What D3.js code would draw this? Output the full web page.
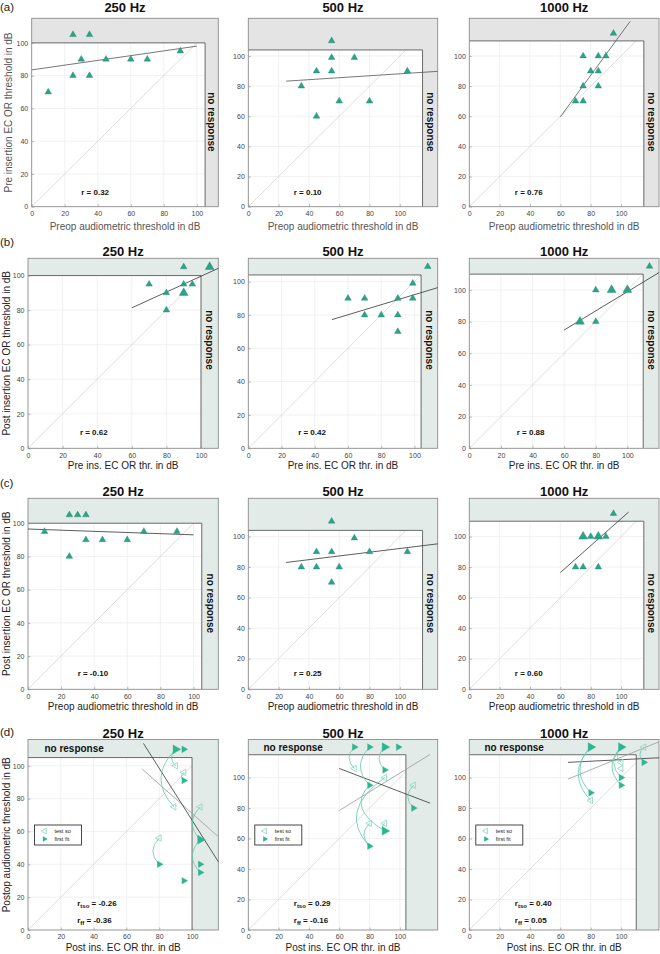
<!DOCTYPE html>
<html><head><meta charset="utf-8">
<script src="https://cdn.jsdelivr.net/npm/d3@7"></script>
<style>
body{margin:0;background:#fff}
svg{display:block}
text{font-family:"Liberation Sans",Arial,Helvetica,sans-serif}
</style></head>
<body><svg id="chart" width="660" height="954"></svg>
<script>
// ---------------- data ----------------
const freqLabels = ["250 Hz", "500 Hz", "1000 Hz"];
const rowTags = ["(a)", "(b)", "(c)", "(d)"];
const tickValues = [0, 20, 40, 60, 80, 100];
const xTitles = ["Preop audiometric threshold in dB", "Pre ins. EC OR thr. in dB",
                 "Preop audiometric threshold in dB", "Post ins. EC OR thr. in dB"];
const yTitles = ["Pre insertion EC OR threshold in dB", "Post insertion EC OR threshold in dB",
                 "Post insertion EC OR threshold in dB", "Postop audiometric threshold in dB"];
const noRespText = "no response";
const legendLabels = ["test so", "first fit"];

// no-response levels per frequency
const preopLimit = [105, 115, 115];
const ecorLimit = [100, 104, 110];

// (a) preop audiometric (x) vs pre insertion EC OR (y)
const a250x = [10, 25, 35, 25, 35, 30, 45, 60, 70, 90];
const a250y = [70, 105, 105, 80, 80, 90, 90, 90, 90, 95];
const a250fit = [[0, 83.5], [100, 98]];
const a500x = [35, 45, 45, 55, 55, 55, 60, 70, 80, 105];
const a500y = [80, 90, 60, 110, 99, 90, 70, 99, 70, 90];
const a500fit = [[25, 83.3], [125, 89.8]];
const a1000x = [95, 75, 85, 90, 80, 85, 75, 85, 70, 75];
const a1000y = [115, 100, 100, 100, 90, 90, 80, 80, 70, 70];
const a1000fit = [[60, 59.6], [106, 123]];
const aR = ["0.32", "0.10", "0.76"];

// (b) pre insertion EC OR (x) vs post insertion EC OR (y)
const b250x = [70, 80, 80, 90, 90, 90, 90, 95, 105, 105];
const b250y = [95, 90, 80, 105, 95, 90, 90, 95, 105, 105];
const b250fit = [[60, 81.3], [110, 104.2]];
const b500x = [60, 70, 70, 80, 90, 90, 90, 99, 99, 108];
const b500y = [90, 90, 80, 80, 90, 80, 70, 99, 90, 109];
const b500fit = [[50.3, 77.2], [114, 96.4]];
const b1000x = [70, 70, 80, 80, 90, 90, 100, 100, 114];
const b1000y = [80, 80, 100, 80, 100, 100, 100, 100, 115];
const b1000fit = [[60, 74.7], [120, 111]];
const bR = ["0.62", "0.42", "0.88"];

// (c) preop audiometric (x) vs post insertion EC OR (y)
const c250x = [10, 25, 30, 35, 25, 35, 45, 60, 70, 90];
const c250y = [95, 105, 105, 105, 80, 90, 90, 90, 95, 95];
const c250fit = [[0, 96.5], [100, 93]];
const c500x = [35, 45, 45, 55, 55, 55, 60, 70, 80, 105];
const c500y = [80, 90, 80, 110, 90, 70, 80, 99, 90, 90];
const c500fit = [[25, 83], [125, 95.2]];
const c1000x = [95, 75, 75, 80, 85, 85, 90, 70, 75, 85];
const c1000y = [115, 100, 100, 100, 100, 100, 100, 80, 80, 80];
const c1000fit = [[60, 76.4], [105, 116]];
const cR = ["-0.10", "0.25", "0.60"];

// (d) post insertion EC OR (x) vs postop audiometric threshold (y)
const d250ffX = [90, 90, 95, 95, 105, 105, 80, 105, 105, 95];
const d250ffY = [110, 110, 110, 91, 55, 55, 40, 40, 35, 30];
const d250tsoX = [90, 95, 89, 105, 80];
const d250tsoY = [100, 96, 75, 75, 56];
const d250arcs = [[90, 110, 90, 100], [90, 110, 89, 75], [95, 96, 95, 91], [105, 75, 105, 55],
                  [80, 56, 80, 40], [105, 55, 105, 35]];
const d250fitTso = [[69.6, 98], [116, 56.8]];
const d250fitFf = [[70.4, 113.6], [116, 41.6]];

const d500ffX = [70, 80, 90, 90, 99, 90, 80, 109, 90, 90, 80];
const d500ffY = [120, 120, 120, 120, 120, 105, 95, 80, 65, 65, 55];
const d500tsoX = [70, 90, 109, 80, 90];
const d500tsoY = [106, 100, 95, 70, 70];
const d500arcs = [[70, 120, 70, 106], [80, 120, 80, 95], [90, 120, 90, 105], [90, 100, 80, 55],
                  [80, 95, 90, 65], [80, 70, 80, 55], [90, 70, 90, 65], [109, 95, 109, 80]];
const d500fitTso = [[60, 78.4], [120, 115.2]];
const d500fitFf = [[60, 106], [120, 83.2]];

const d1000ffX = [80, 80, 100, 100, 115, 100, 100, 80];
const d1000ffY = [120, 120, 120, 120, 110, 100, 95, 90];
const d1000tsoX = [115, 100, 100, 80];
const d1000tsoY = [120, 110, 106, 85];
const d1000arcs = [[80, 120, 80, 85], [80, 120, 80, 90], [100, 120, 100, 110], [100, 120, 100, 100],
                   [100, 120, 100, 95], [115, 120, 115, 110]];
const d1000fitTso = [[65, 99], [125, 123.5]];
const d1000fitFf = [[65, 110], [125, 113]];
const dRtso = ["-0.26", "0.29", "0.40"];
const dRff = ["-0.36", "-0.16", "0.05"];

// ---------------- layout ----------------
const colBounds = [[28, 218.3], [248.3, 437.7], [469.3, 659]];
const rowBounds = [[18.3, 206.7], [258.3, 448.3], [498.3, 689.3], [739.5, 930]];
const xMaxes = [[113, 125, 125], [110, 114, 120], [115, 125, 125], [116, 125, 125]];
const yMaxes = [[115, 125, 125], [110, 114, 120], [115, 125, 125], [116, 125, 125]];
const nrXs = [preopLimit, ecorLimit, preopLimit, ecorLimit];
const nrYs = [ecorLimit, ecorLimit, ecorLimit, preopLimit];
const nrTextFrac = [0.55, 0.43, 0.55, 0];
const titleBase = [12, 255.5, 496, 737.5];
const tagBase = [11, 246, 487, 736];

const rowData = [
  [[a250x, a250y, a250fit], [a500x, a500y, a500fit], [a1000x, a1000y, a1000fit]],
  [[b250x, b250y, b250fit], [b500x, b500y, b500fit], [b1000x, b1000y, b1000fit]],
  [[c250x, c250y, c250fit], [c500x, c500y, c500fit], [c1000x, c1000y, c1000fit]]
];
const rowR = [aR, bR, cR];
const dData = [
  [d250tsoX, d250tsoY, d250ffX, d250ffY, d250arcs, d250fitTso, d250fitFf],
  [d500tsoX, d500tsoY, d500ffX, d500ffY, d500arcs, d500fitTso, d500fitFf],
  [d1000tsoX, d1000tsoY, d1000ffX, d1000ffY, d1000arcs, d1000fitTso, d1000fitFf]
];

const markerCol = "#2aa386";
const ffCol = "#2db58f";
const tsoCol = "#86d6bd";
const arcCol = "#62c9a8";

const svg = d3.select("#chart");
const countPts = (xs, ys) => d3.rollups(xs.map((v, i) => [v, ys[i]]), v => v.length, d => d[0] + "," + d[1])
  .map(([k, n]) => { const p = k.split(",").map(Number); return {x: p[0], y: p[1], n}; });

for (let r = 0; r < 4; r++) {
  const labCol = r === 0 ? "#555" : "#222";
  const shade = r === 0 ? "#e4e4e4" : "#e3ebe9";
  svg.append("text").attr("x", 0).attr("y", tagBase[r])
    .attr("font-size", 11.5).attr("fill", "#222").text(rowTags[r]);

  for (let c = 0; c < 3; c++) {
    const left = (r === 0 && c === 0) ? 31.7 : colBounds[c][0];
    const right = colBounds[c][1];
    const [top, bottom] = rowBounds[r];
    const x = d3.scaleLinear().domain([0, xMaxes[r][c]]).range([left, right]);
    const y = d3.scaleLinear().domain([0, yMaxes[r][c]]).range([bottom, top]);
    const nrX = nrXs[r][c], nrY = nrYs[r][c];
    const g = svg.append("g");

    g.append("rect").attr("x", left).attr("y", top).attr("width", right - left)
      .attr("height", bottom - top).attr("fill", shade);
    g.append("rect").attr("x", x(0)).attr("y", y(nrY)).attr("width", x(nrX) - x(0))
      .attr("height", y(0) - y(nrY)).attr("fill", "#fff");

    tickValues.filter(t => t > 0 && t <= nrX).forEach(t => {
      g.append("line").attr("x1", x(t)).attr("x2", x(t)).attr("y1", y(0)).attr("y2", y(nrY))
        .attr("stroke", "#ebebeb").attr("stroke-width", 0.7);
    });
    tickValues.filter(t => t > 0 && t <= nrY).forEach(t => {
      g.append("line").attr("x1", x(0)).attr("x2", x(nrX)).attr("y1", y(t)).attr("y2", y(t))
        .attr("stroke", "#ebebeb").attr("stroke-width", 0.7);
    });

    const m = Math.min(nrX, nrY);
    g.append("line").attr("x1", x(0)).attr("y1", y(0)).attr("x2", x(m)).attr("y2", y(m))
      .attr("stroke", "#cfcfcf").attr("stroke-width", 0.7);

    g.append("path").attr("d", `M${x(0)},${y(nrY)}H${x(nrX)}V${y(0)}`)
      .attr("fill", "none").attr("stroke", "#5a5a5a").attr("stroke-width", 0.9);

    g.append("rect").attr("x", left).attr("y", top).attr("width", right - left)
      .attr("height", bottom - top).attr("fill", "none").attr("stroke", "#8c8c8c").attr("stroke-width", 0.9);

    const ax = g.append("g").attr("transform", `translate(0,${bottom})`)
      .call(d3.axisBottom(x).tickValues(tickValues).tickSizeInner(-2.5).tickSizeOuter(0).tickPadding(4.5));
    const ay = g.append("g").attr("transform", `translate(${left},0)`)
      .call(d3.axisLeft(y).tickValues(tickValues).tickSizeInner(-2.5).tickSizeOuter(0).tickPadding(3.5));
    [ax, ay].forEach(a => {
      a.select(".domain").remove();
      a.selectAll("line").attr("stroke", "#8c8c8c").attr("stroke-width", 0.6);
      a.selectAll("text").attr("font-size", 7).attr("fill", "#444")
        .attr("font-family", '"Liberation Sans",Arial,sans-serif');
    });

    g.append("text").attr("x", (left + right) / 2).attr("y", titleBase[r])
      .attr("text-anchor", "middle").attr("font-size", 13).attr("font-weight", "bold")
      .attr("fill", "#111").text(freqLabels[c]);
    g.append("text").attr("x", (left + right) / 2).attr("y", bottom + (r === 0 ? 23.5 : 20.5))
      .attr("text-anchor", "middle").attr("font-size", 10).attr("fill", labCol).text(xTitles[r]);
    if (c === 0) {
      const cy = (top + bottom) / 2;
      const bx = r === 0 ? 12 : 10;
      g.append("text").attr("transform", `translate(${bx},${cy}) rotate(-90)`)
        .attr("text-anchor", "middle").attr("font-size", 10).attr("fill", labCol).text(yTitles[r]);
    }

    if (r < 3) {
      const cx = (x(nrX) + right) / 2;
      const cy = top + (bottom - top) * nrTextFrac[r];
      g.append("text").attr("transform", `translate(${cx},${cy}) rotate(90)`)
        .attr("text-anchor", "middle").attr("dy", "0.35em").attr("font-size", 10)
        .attr("font-weight", "bold").attr("fill", "#111").text(noRespText);
    } else {
      g.append("text").attr("x", x(10)).attr("y", (top + y(nrY)) / 2).attr("dy", "0.36em")
        .attr("font-size", 10).attr("font-weight", "bold").attr("fill", "#111").text(noRespText);
    }

    const line = d3.line().x(d => x(d[0])).y(d => y(d[1]));

    if (r < 3) {
      const [xs, ys, fit] = rowData[r][c];
      g.append("path").attr("d", line(fit)).attr("fill", "none")
        .attr("stroke", r === 0 ? "#555" : "#333").attr("stroke-width", 0.8);
      g.selectAll(".m").data(countPts(xs, ys)).join("path")
        .attr("transform", d => `translate(${x(d.x)},${y(d.y)})`)
        .attr("d", d => d3.symbol(d3.symbolTriangle, d.n > 1 ? 34 : 19)())
        .attr("fill", markerCol).attr("stroke", "#1f8a6f").attr("stroke-width", 0.4);
      g.append("text").attr("x", x(30)).attr("y", bottom - (r === 0 ? 12 : 13))
        .attr("font-size", 8).attr("font-weight", "bold").attr("fill", "#111")
        .text("r = " + rowR[r][c]);
    } else {
      const [tx, ty, fx, fy, arcs, fitT, fitF] = dData[c];
      g.append("path").attr("d", line(fitT)).attr("fill", "none").attr("stroke", "#9a9a9a").attr("stroke-width", 0.8);
      g.append("path").attr("d", line(fitF)).attr("fill", "none").attr("stroke", "#333").attr("stroke-width", 0.8);
      arcs.forEach(a => {
        const x1 = x(a[0]), y1 = y(a[1]), x2 = x(a[2]), y2 = y(a[3]);
        const d = Math.hypot(x2 - x1, y2 - y1);
        const mx = Math.min(x1, x2) - 0.45 * d - 1, my = (y1 + y2) / 2;
        g.append("path").attr("d", `M${x1},${y1}Q${mx},${my} ${x2},${y2}`)
          .attr("fill", "none").attr("stroke", arcCol).attr("stroke-width", 0.8);
      });
      g.selectAll(".t").data(countPts(tx, ty)).join("path")
        .attr("transform", d => `translate(${x(d.x)},${y(d.y)}) rotate(-90)`)
        .attr("d", d => d3.symbol(d3.symbolTriangle, d.n > 1 ? 30 : 18)())
        .attr("fill", "none").attr("stroke", tsoCol).attr("stroke-width", 0.8);
      g.selectAll(".f").data(countPts(fx, fy)).join("path")
        .attr("transform", d => `translate(${x(d.x)},${y(d.y)}) rotate(90)`)
        .attr("d", d => d3.symbol(d3.symbolTriangle, d.n > 1 ? 34 : 19)())
        .attr("fill", ffCol).attr("stroke", ffCol).attr("stroke-width", 0.4);
      const rt = g.append("text").attr("x", x(30)).attr("y", bottom - 24)
        .attr("font-size", 8).attr("font-weight", "bold").attr("fill", "#111");
      rt.append("tspan").text("r");
      rt.append("tspan").attr("font-size", 6).attr("dy", 2).text("tso");
      rt.append("tspan").attr("dy", -2).text(" = " + dRtso[c]);
      const rf = g.append("text").attr("x", x(30)).attr("y", bottom - 7)
        .attr("font-size", 8).attr("font-weight", "bold").attr("fill", "#111");
      rf.append("tspan").text("r");
      rf.append("tspan").attr("font-size", 6).attr("dy", 2).text("ff");
      rf.append("tspan").attr("dy", -2).text(" = " + dRff[c]);
      const lx = left + 6.5, ly = top + 85.5;
      const lg = g.append("g");
      lg.append("rect").attr("x", lx).attr("y", ly).attr("width", 47).attr("height", 20)
        .attr("fill", "#fff").attr("stroke", "#333").attr("stroke-width", 0.9);
      lg.append("path").attr("transform", `translate(${lx + 10},${ly + 6}) rotate(-90)`)
        .attr("d", d3.symbol(d3.symbolTriangle, 14)()).attr("fill", "none").attr("stroke", tsoCol).attr("stroke-width", 0.8);
      lg.append("path").attr("transform", `translate(${lx + 10},${ly + 14}) rotate(90)`)
        .attr("d", d3.symbol(d3.symbolTriangle, 14)()).attr("fill", ffCol);
      lg.append("text").attr("x", lx + 20).attr("y", ly + 8).attr("font-size", 5.5).attr("fill", "#222").text(legendLabels[0]);
      lg.append("text").attr("x", lx + 20).attr("y", ly + 16).attr("font-size", 5.5).attr("fill", "#222").text(legendLabels[1]);
    }
  }
}
</script></body></html>
